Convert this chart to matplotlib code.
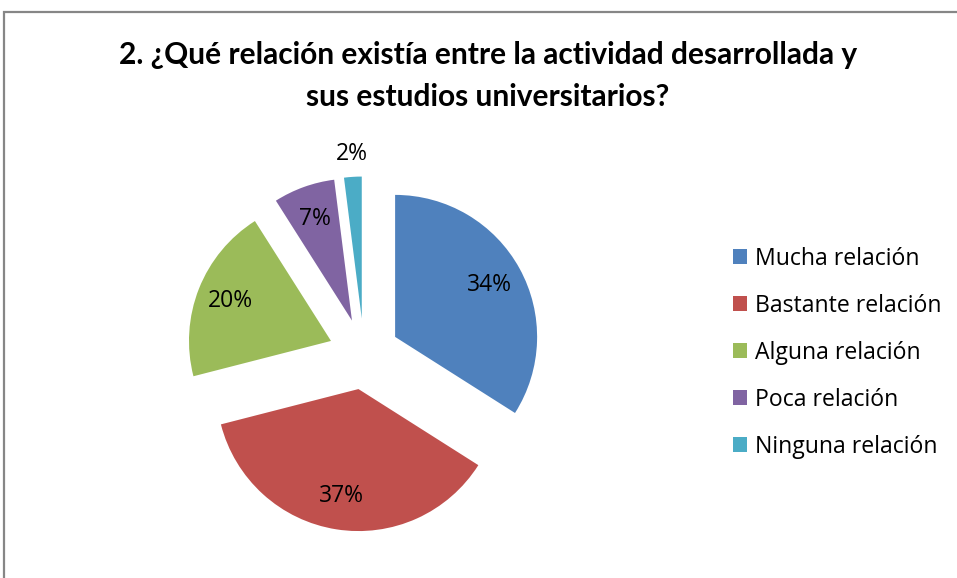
import matplotlib
matplotlib.use("Agg")
import matplotlib.pyplot as plt
from matplotlib.patches import Rectangle
import numpy as np

categories = ["Mucha relación", "Bastante relación", "Alguna relación", "Poca relación", "Ninguna relación"]
values = [34, 37, 20, 7, 2]
colors = ["#4F81BD", "#C0504D", "#9BBB59", "#8064A2", "#4BACC6"]
title = "2. ¿Qué relación existía entre la actividad desarrollada y\nsus estudios universitarios?"

W, H = 957, 578
fig = plt.figure(figsize=(W / 100, H / 100), dpi=100)
fig.patch.set_facecolor("white")

# outer frame (extends past right/bottom edges)
fig.patches.append(Rectangle((4 / W, -0.05), 1.1, (H - 12) / H + 0.05, transform=fig.transFigure,
                             fill=False, edgecolor="#868686", linewidth=1.6))

ax = fig.add_axes([0, 0, 1, 1])
R = 142.0
cx, cy = 364.0, 354.0
wedges, texts = ax.pie(values, colors=colors, startangle=90, counterclock=False,
                       explode=[0.25] * len(values), radius=1.0,
                       wedgeprops=dict(linewidth=0))
ax.set_xlim(-cx / R, (W - cx) / R)
ax.set_ylim(-(H - cy) / R, cy / R)
ax.set_aspect("auto")
ax.axis("off")

total = sum(values)
for w, v in zip(wedges, values):
    mid = np.deg2rad((w.theta1 + w.theta2) / 2)
    dist = 0.76 if v >= 5 else 1.16
    x = w.center[0] + dist * np.cos(mid)
    y = w.center[1] + dist * np.sin(mid)
    ax.text(x, y, f"{round(100 * v / total)}%", ha="center", va="center",
            fontsize=16.5, family=["Open Sans", "DejaVu Sans"], color="black")

fig.text(488 / W, 1 - 76 / H, title, ha="center", va="center", fontsize=21.5,
         fontweight="bold", family=["Lato", "DejaVu Sans"], linespacing=1.6)

leg = ax.legend(wedges, categories, loc="upper left", bbox_to_anchor=(712 / W, 1 - 226 / H),
                bbox_transform=fig.transFigure, frameon=False,
                handlelength=0.62, handleheight=0.62, handletextpad=0.33,
                labelspacing=1.0, prop=dict(family=["Open Sans", "DejaVu Sans"], size=16.6))

fig.savefig("out.png", dpi=100, facecolor="white")
